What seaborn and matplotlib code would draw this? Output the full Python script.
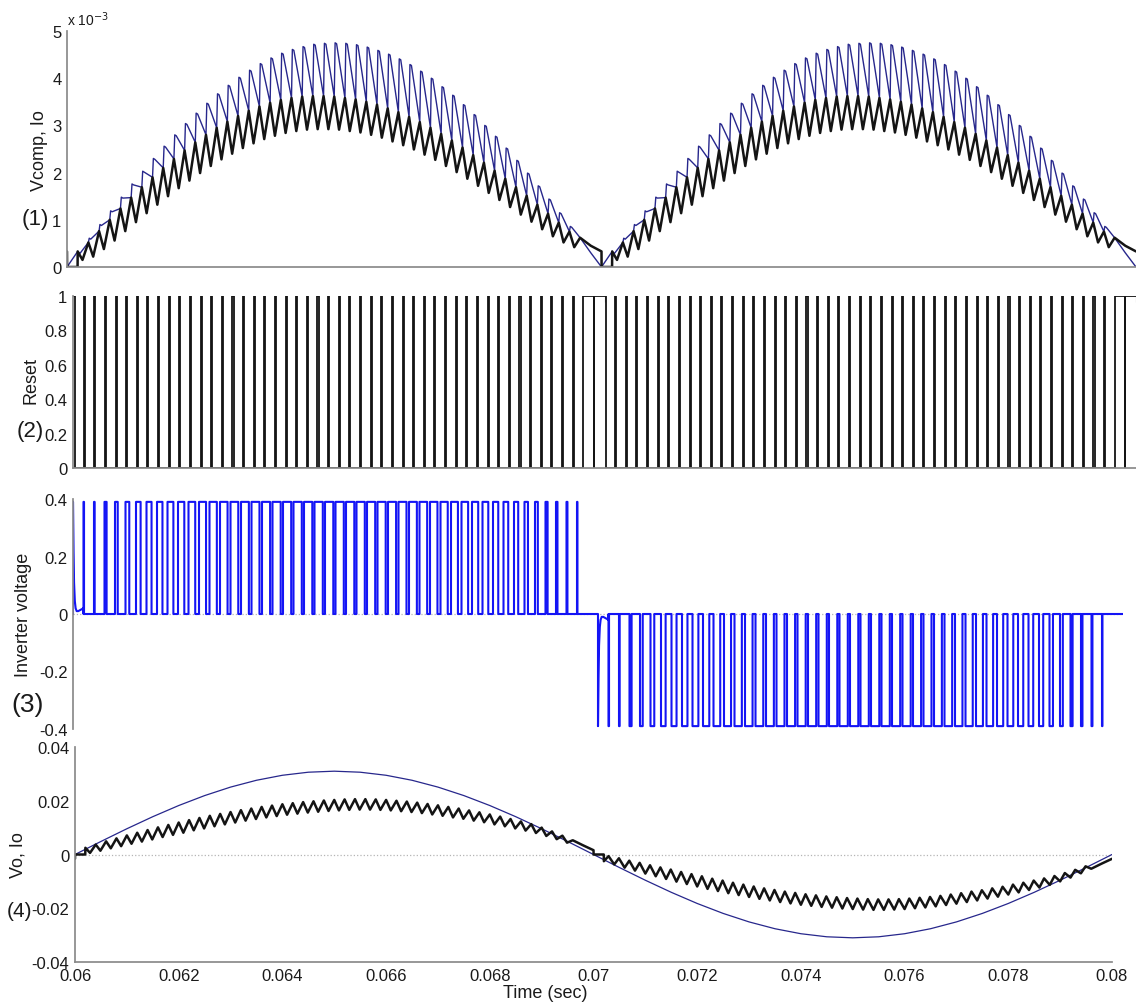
import numpy as np
import pandas as pd
import seaborn as sns
import matplotlib.pyplot as plt
from matplotlib.ticker import FuncFormatter

# switching period and the two half cycles shown
T_SW = 0.0002
HALF_STARTS = [0.06, 0.07]
nan = np.nan

# (1) Vcomp tooth tops and Io peaks / troughs per switching period (x 1e-3)
vc_top = [nan, 0.31, 0.61, 0.90, 1.19, 1.48, 1.76, 2.03, 2.30, 2.56, 2.80,
          3.04, 3.26, 3.47, 3.67, 3.85, 4.02, 4.17, 4.31, 4.43, 4.53,
          4.61, 4.67, 4.72, 4.74, 4.75, 4.74, 4.71, 4.66, 4.59, 4.51,
          4.41, 4.29, 4.15, 4.00, 3.82, 3.64, 3.44, 3.23, 3.00, 2.77,
          2.52, 2.26, 1.99, 1.72, 1.44, 1.15, 0.86, nan, nan]
io_pk = [0.33, 0.52, 0.76, 1.00, 1.24, 1.47, 1.69, 1.90, 2.10, 2.29,
         2.47, 2.64, 2.80, 2.95, 3.08, 3.20, 3.31, 3.40, 3.48, 3.54,
         3.58, 3.61, 3.62, 3.62, 3.61, 3.58, 3.55, 3.50, 3.44, 3.36,
         3.28, 3.18, 3.07, 2.95, 2.82, 2.68, 2.53, 2.37, 2.21, 2.04,
         1.87, 1.69, 1.51, 1.32, 1.13, 0.94, 0.75, 0.62, 0.45, 0.33]
io_tr = [nan, 0.15, 0.22, 0.38, 0.56, 0.76, 0.95, 1.14, 1.32, 1.50,
         1.67, 1.83, 1.99, 2.14, 2.28, 2.40, 2.52, 2.62, 2.71, 2.78,
         2.84, 2.88, 2.91, 2.92, 2.92, 2.91, 2.88, 2.85, 2.80, 2.74,
         2.66, 2.58, 2.49, 2.38, 2.27, 2.14, 2.01, 1.87, 1.72, 1.57,
         1.42, 1.27, 1.11, 0.96, 0.80, 0.65, 0.52, 0.42, nan, nan]
vc_tail = [0.30, 0.0]   # Vcomp at end of the last two periods (no teeth)

# (2) reset: h = held high at start, p = narrow pulse, H = held high
reset_state = "hpppppppppppppppppppppppppppppppppppppppppppppppHH"
RESET_W = 0.00002

# (3) inverter voltage duty per period and the start transient
inv_duty = [0, 0.05, 0.06, 0.20, 0.26, 0.36, 0.44, 0.48, 0.52, 0.56,
            0.60, 0.64, 0.67, 0.70, 0.72, 0.74, 0.75, 0.76, 0.77, 0.78,
            0.78, 0.79, 0.79, 0.79, 0.79, 0.79, 0.79, 0.79, 0.78, 0.78,
            0.77, 0.76, 0.75, 0.73, 0.71, 0.69, 0.66, 0.63, 0.59, 0.55,
            0.50, 0.45, 0.40, 0.33, 0.27, 0.20, 0.14, 0.09, 0.04, 0]
INV_HIGH = 0.39
inv_start_dt = [0, 0.00001, 0.00002, 0.000035, 0.00005, 0.00007, 0.0001, 0.00015, 0.000198]
inv_start_v = [0.39, 0.22, 0.11, 0.045, 0.02, 0.01, 0.01, 0.015, 0.02]

# (4) Vo sampled every 0.5 ms, Io peaks / troughs per period (x 1e-3)
vo_vals = [0, 4.85, 9.58, 14.07, 18.22, 21.92, 25.08, 27.62, 29.48, 30.62, 31.0,
           30.62, 29.48, 27.62, 25.08, 21.92, 18.22, 14.07, 9.58, 4.85, 0,
           -4.85, -9.58, -14.07, -18.22, -21.92, -25.08, -27.62, -29.48, -30.62, -31.0,
           -30.62, -29.48, -27.62, -25.08, -21.92, -18.22, -14.07, -9.58, -4.85, 0]
io4_pk = [2.5, 3.7, 4.9, 6.0, 7.1, 8.1, 9.1, 10.1, 11.0, 11.9,
          12.8, 13.6, 14.4, 15.1, 15.8, 16.5, 17.1, 17.7, 18.2, 18.7,
          19.1, 19.5, 19.8, 20.1, 20.3, 20.5, 20.6, 20.6, 20.5, 20.3,
          20.0, 19.7, 19.3, 18.8, 18.3, 17.7, 17.1, 16.4, 15.7, 14.9,
          14.1, 13.2, 12.3, 11.3, 10.0, 8.6, 7.0, 5.3, 3.4, 1.6]
io4_tr = [nan, 0.6, 1.4, 2.3, 3.1, 4.0, 4.8, 5.6, 6.5, 7.3,
          8.1, 9.0, 9.7, 10.5, 11.2, 11.9, 12.6, 13.2, 13.8, 14.3,
          14.8, 15.2, 15.6, 15.9, 16.2, 16.4, 16.6, 16.7, 16.7, 16.6,
          16.4, 16.1, 15.8, 15.4, 14.9, 14.4, 13.8, 13.3, 12.6, 12.0,
          11.2, 10.5, 9.7, 8.9, 8.0, 6.9, 5.7, 4.4, nan, nan]

N_PER = len(io_pk)


def build_panel1():
    vc_low = io_pk[:N_PER - 2] + vc_tail
    bt, bv, kt, kv = [], [], [], []
    for t0 in HALF_STARTS:
        bt += [t0]
        bv += [0.0]
        kt += [t0, t0 + 2e-6, t0 + T_SW - 2e-6]
        kv += [io_pk[-1], 0.0, 0.0]
        bt.append(t0 + T_SW)
        bv.append(vc_low[0])
        kt.append(t0 + T_SW)
        kv.append(io_pk[0])
        for k in range(1, N_PER):
            tk = t0 + k * T_SW
            if not np.isnan(vc_top[k]):
                bt += [tk + 0.08 * T_SW, tk + 0.22 * T_SW]
                bv += [vc_top[k], vc_top[k] - 0.02]
            bt.append(tk + T_SW)
            bv.append(vc_low[k])
            if not np.isnan(io_tr[k]):
                kt.append(tk + 0.45 * T_SW)
                kv.append(io_tr[k])
            kt.append(tk + T_SW)
            kv.append(io_pk[k])
    return (pd.DataFrame({"t": bt, "v": bv}), pd.DataFrame({"t": kt, "v": kv}))


def build_reset():
    rt, rv = [], []
    for t0 in HALF_STARTS:
        for k, s in enumerate(reset_state):
            tk = t0 + k * T_SW
            if s == "h":
                rt += [tk, tk + 0.00003, tk + 0.00003]
                rv += [1, 1, 0]
            elif s == "p":
                rt += [tk, tk, tk + RESET_W, tk + RESET_W]
                rv += [0, 1, 1, 0]
            else:
                rt += [tk, tk, tk + T_SW]
                rv += [0, 1, 1]
    return pd.DataFrame({"t": rt, "v": rv})


def build_inverter():
    it, iv = [], []
    for t0, sign in zip(HALF_STARTS, [1, -1]):
        it.append(t0)
        iv.append(0.0)
        it += [t0 + d for d in inv_start_dt]
        iv += [sign * v for v in inv_start_v]
        for k in range(1, N_PER):
            tk = t0 + k * T_SW
            d = inv_duty[k]
            if d > 0:
                it += [tk, tk, tk + d * T_SW, tk + d * T_SW]
                iv += [0, sign * INV_HIGH, sign * INV_HIGH, 0]
            else:
                it.append(tk)
                iv.append(0.0)
    it.append(HALF_STARTS[-1] + N_PER * T_SW)
    iv.append(0.0)
    return pd.DataFrame({"t": it, "v": iv})


def build_io4():
    kt, kv = [], []
    for t0, sign in zip(HALF_STARTS, [1, -1]):
        kt += [t0, t0 + 2e-6, t0 + T_SW - 2e-6, t0 + T_SW]
        kv += [-sign * io4_pk[-1], 0.0, 0.0, sign * io4_pk[0]]
        for k in range(1, N_PER):
            tk = t0 + k * T_SW
            if not np.isnan(io4_tr[k]):
                kt.append(tk + 0.45 * T_SW)
                kv.append(sign * io4_tr[k])
            kt.append(tk + T_SW)
            kv.append(sign * io4_pk[k])
    return pd.DataFrame({"t": kt, "v": np.array(kv) / 1000.0})


# ---------------------------------------------------------------------------
sns.set_theme(style="white")
plt.rcParams['font.family'] = ['Liberation Sans', 'DejaVu Sans']
plt.rcParams['axes.unicode_minus'] = False

W, H = 1136, 1004
AX_GREY = '#8a8a8a'
NAVY = '#27278c'
BRIGHT_BLUE = '#1414f5'
INK = '#141414'

fig = plt.figure(figsize=(W / 100, H / 100), dpi=100)


def px_rect(left, right, top, bottom):
    return [left / W, 1 - bottom / H, (right - left) / W, (bottom - top) / H]


def style_axes(ax, show_bottom=True):
    for side in ['top', 'right']:
        ax.spines[side].set_visible(False)
    ax.spines['left'].set_color(AX_GREY)
    ax.spines['bottom'].set_color(AX_GREY)
    ax.spines['bottom'].set_visible(show_bottom)
    ax.tick_params(direction='in', length=4.5, width=0.8, color=AX_GREY,
                   labelsize=12, labelcolor='#1a1a1a', pad=4)
    ax.yaxis.set_major_formatter(FuncFormatter(lambda v, p: '%g' % round(v, 4)))


def place_ylabel(ax, text, px, py, size=13):
    ax.set_ylabel(text, fontsize=size, color='#1a1a1a')
    ax.yaxis.label.set_va('center')
    ax.yaxis.set_label_coords(px / W, 1 - py / H, transform=fig.transFigure)


def tag(text, px, py, size):
    fig.text(px / W, 1 - py / H, text, fontsize=size, ha='center', va='center',
             color='#1a1a1a')


xticks_all = np.round(np.arange(0.06, 0.0801, 0.002), 3)

# panel 1 -------------------------------------------------------------------
vc_df, io_df = build_panel1()
ax1 = fig.add_axes(px_rect(67, 1136, 32, 268))
sns.lineplot(data=vc_df, x='t', y='v', ax=ax1, sort=False, estimator=None,
             color=NAVY, linewidth=1.0)
sns.lineplot(data=io_df, x='t', y='v', ax=ax1, sort=False, estimator=None,
             color=INK, linewidth=1.8)
ax1.set_xlim(0.06, 0.06 + (1136 - 67) / 54000)
ax1.set_ylim(0, 5)
ax1.set_yticks([0, 1, 2, 3, 4, 5])
ax1.set_xticks(xticks_all[1:])
ax1.set_xticklabels([])
ax1.set_xlabel('')
style_axes(ax1)
place_ylabel(ax1, 'Vcomp, Io', 39, 151)
fig.text(67 / W, 1 - 26 / H, r'x 10$^{-3}$', fontsize=10, ha='left', va='baseline',
         color='#1a1a1a')
tag('(1)', 35, 220, 16)

# panel 2 -------------------------------------------------------------------
ax2 = fig.add_axes(px_rect(73, 1136, 297, 469))
sns.lineplot(data=build_reset(), x='t', y='v', ax=ax2, sort=False, estimator=None,
             color=INK, linewidth=1.3)
ax2.set_xlim(0.06, 0.06 + (1136 - 73) / 53500)
ax2.set_ylim(0, 1)
ax2.set_yticks([0, 0.2, 0.4, 0.6, 0.8, 1])
ax2.set_xticks(xticks_all[1:])
ax2.set_xticklabels([])
ax2.set_xlabel('')
style_axes(ax2)
ax2.tick_params(axis='x', top=True)
place_ylabel(ax2, 'Reset', 31, 380)
tag('(2)', 30, 432, 16)

# panel 3 -------------------------------------------------------------------
ax3 = fig.add_axes(px_rect(73, 1123, 500, 730))
ax3.axhline(0, color='#b5b5b5', linestyle=':', linewidth=0.9, zorder=0)
sns.lineplot(data=build_inverter(), x='t', y='v', ax=ax3, sort=False, estimator=None,
             color=BRIGHT_BLUE, linewidth=1.5)
ax3.set_xlim(0.06, 0.08)
ax3.set_ylim(-0.4, 0.4)
ax3.set_yticks([-0.4, -0.2, 0, 0.2, 0.4])
ax3.set_xticks(xticks_all[1:])
ax3.set_xticklabels([])
ax3.set_xlabel('')
style_axes(ax3, show_bottom=False)
place_ylabel(ax3, 'Inverter voltage', 24, 615)
tag('(3)', 28, 705, 19)

# panel 4 -------------------------------------------------------------------
vo_t = np.linspace(0.06, 0.08, len(vo_vals))
vo_df = pd.DataFrame({"t": vo_t, "v": np.array(vo_vals) / 1000.0})
ax4 = fig.add_axes(px_rect(75, 1112, 748, 963))
ax4.axhline(0, color='#b5b5b5', linestyle=':', linewidth=0.9, zorder=0)
sns.lineplot(data=vo_df, x='t', y='v', ax=ax4, sort=False, estimator=None,
             color=NAVY, linewidth=0.9)
sns.lineplot(data=build_io4(), x='t', y='v', ax=ax4, sort=False, estimator=None,
             color=INK, linewidth=1.8)
ax4.set_xlim(0.06, 0.08)
ax4.set_ylim(-0.04, 0.04)
ax4.set_yticks([-0.04, -0.02, 0, 0.02, 0.04])
ax4.set_xticks(xticks_all)
ax4.set_xlabel('')
style_axes(ax4)
ax4.xaxis.set_major_formatter(FuncFormatter(lambda v, p: '%g' % round(v, 4)))
place_ylabel(ax4, 'Vo, Io', 18, 855)
tag('(4)', 19, 912, 15)
fig.text(545 / W, 1 - 994 / H, 'Time (sec)', fontsize=13, ha='center', va='center',
         color='#1a1a1a')

fig.savefig('out.png', dpi=100)
